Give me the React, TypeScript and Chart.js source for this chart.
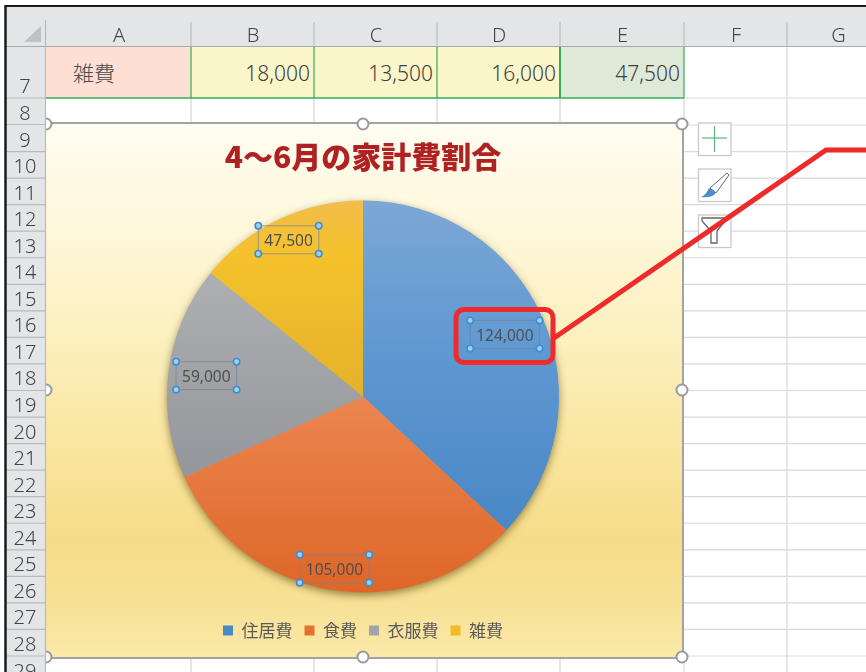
import React, { useEffect, useRef } from "react";
import { Chart, registerables } from "chart.js";

Chart.register(...registerables);

// ---- data ----
const categories = ["住居費", "食費", "衣服費", "雑費"];
const seriesValues = [124000, 105000, 59000, 47500];
const chartTitle = "4～6月の家計費割合";
const columnLabels = ["A", "B", "C", "D", "E", "F", "G"];
const rowLabels = ["7", "8", "9", "10", "11", "12", "13", "14", "15", "16", "17", "18", "19", "20", "21", "22", "23", "24", "25", "26", "27", "28", "29"];
const rowCategory = "雑費";
const rowCells = ["18,000", "13,500", "16,000", "47,500"];

// ---- style ----
const legendColors = ["#4a89c8", "#e5712f", "#a3a4a7", "#f1bb2a"];
const sliceStops: [number, string][][] = [
  [[0, "#7ca7d6"], [0.4, "#5e98d1"], [0.82, "#4b88c7"]],
  [[0.5, "#ec8650"], [1, "#de6628"]],
  [[0.19, "#aeafb2"], [0.71, "#95969b"]],
  [[0, "#f2bd4a"], [0.14, "#f5c22c"], [0.5, "#e4b12b"]],
];
const labelRadiusFraction = [0.789, 0.893, 0.806, 0.883];
const colEdges = [46, 191, 314, 437, 560, 684, 787, 890];
const FONT = '"Noto Sans CJK JP", "Noto Sans", sans-serif';
const LATIN = '"Noto Sans", "Open Sans", sans-serif';
const rowTop = (i: number) => 125 + (i - 2) * 26.55; // i: index in rowLabels, from row 9

const shadowPlugin = {
  id: "pieShadow",
  beforeDatasetsDraw(chart: any) {
    const arc = chart.getDatasetMeta(0).data[0];
    if (!arc) return;
    const c = chart.ctx;
    c.save();
    c.shadowColor = "rgba(70,55,0,0.6)";
    c.shadowBlur = 9;
    c.shadowOffsetY = 3;
    c.fillStyle = "#b0a070";
    c.beginPath();
    c.arc(arc.x, arc.y, arc.outerRadius - 0.5, 0, Math.PI * 2);
    c.fill();
    c.restore();
  },
};

const labelPlugin = {
  id: "sliceLabels",
  afterDatasetsDraw(chart: any) {
    const c = chart.ctx;
    const meta = chart.getDatasetMeta(0);
    meta.data.forEach((arc: any, i: number) => {
      const mid = (arc.startAngle + arc.endAngle) / 2;
      const r = arc.outerRadius * labelRadiusFraction[i];
      const x = arc.x + Math.cos(mid) * r;
      const y = arc.y + Math.sin(mid) * r;
      const text = seriesValues[i].toLocaleString("en-US");
      c.save();
      c.font = `15.5px ${LATIN}`;
      c.textAlign = "center";
      c.textBaseline = "middle";
      c.fillStyle = "#4f4f4f";
      c.fillText(text, x, y + 1.5);
      const hw = c.measureText(text).width / 2 + 6;
      const hh = 14;
      const by = y - 0.5;
      c.strokeStyle = "rgba(120,130,150,0.75)";
      c.lineWidth = 1;
      c.strokeRect(x - hw, by - hh, hw * 2, hh * 2);
      for (const [dx, dy] of [[-hw, -hh], [hw, -hh], [-hw, hh], [hw, hh]]) {
        c.beginPath();
        c.arc(x + dx, by + dy, 3.2, 0, Math.PI * 2);
        c.fillStyle = "#9fd0f2";
        c.fill();
        c.lineWidth = 1.6;
        c.strokeStyle = "#3d8fd2";
        c.stroke();
      }
      c.restore();
    });
  },
};

function Sheet() {
  const lines: React.ReactNode[] = [];
  rowLabels.forEach((_, i) => {
    if (i < 2) return;
    const y = rowTop(i);
    lines.push(<line key={"r" + i} x1={684} x2={866} y1={y} y2={y} stroke="#d9d9d9" strokeWidth={1.2} />);
  });
  const gridY = [[98, 124], [658, 672]];
  colEdges.slice(1, 6).forEach((x, i) => {
    gridY.forEach(([a, b], j) => {
      if (x === 684 && j === 1) return;
      lines.push(<line key={`c${i}${j}`} x1={x} x2={x} y1={a} y2={b} stroke="#d4d4d4" strokeWidth={1.2} />);
    });
  });
  return (
    <svg width={866} height={672} style={{ position: "absolute", left: 0, top: 0 }}>
      <rect x={0} y={0} width={866} height={672} fill="#fff" />
      {lines}
      <line x1={684} x2={684} y1={658} y2={672} stroke="#d4d4d4" />
      <line x1={787} x2={787} y1={46} y2={672} stroke="#d9d9d9" strokeWidth={1.2} />
      <line x1={684} x2={866} y1={98} y2={98} stroke="#d9d9d9" strokeWidth={1.2} />
      <rect x={46} y={47} width={145} height={51} fill="#fde0d3" />
      <rect x={191} y={47} width={369} height={51} fill="#faf6c9" />
      <rect x={560} y={47} width={124} height={51} fill="#dfe9d7" />
      <line x1={46} x2={684} y1={98} y2={98} stroke="#35ad5c" strokeWidth={1.3} />
      {[191, 314, 437].map((x) => <line key={x} x1={x} x2={x} y1={47} y2={98} stroke="#35ad5c" strokeWidth={1.2} />)}
      <line x1={560} x2={560} y1={47} y2={98} stroke="#35ad5c" strokeWidth={2} />
      <line x1={684} x2={684} y1={47} y2={98} stroke="#35ad5c" strokeWidth={1.2} />
      <text x={73} y={81} fontFamily={FONT} fontSize={21} fontWeight={300} fill="#4a4a4a">{rowCategory}</text>
      {rowCells.map((t, i) => (
        <text key={t} x={colEdges[i + 2] - 4} y={81} textAnchor="end" fontFamily={LATIN} fontWeight={300} fontSize={21} fill="#3e3e3e">{t}</text>
      ))}
    </svg>
  );
}

function Overlay() {
  const handles = [[46, 124], [363, 124], [682, 124], [46, 390], [682, 390], [46, 657], [363, 657], [682, 657]];
  return (
    <svg width={866} height={672} style={{ position: "absolute", left: 0, top: 0 }}>
      {handles.map(([x, y]) => (
        <circle key={`${x}-${y}`} cx={x} cy={y} r={5.5} fill="#fff" stroke="#9a9a9a" strokeWidth={2} />
      ))}
      {/* header bands */}
      <rect x={0} y={0} width={866} height={6} fill="#fff" />
      <rect x={5} y={6} width={861} height={40} fill="#e4e5e7" />
      <rect x={5} y={6} width={40} height={666} fill="#e4e5e7" />
      <line x1={5} x2={866} y1={46.5} y2={46.5} stroke="#a9aaac" strokeWidth={1.2} />
      <line x1={45.5} x2={45.5} y1={20} y2={672} stroke="#b9babc" strokeWidth={1.2} />
      <polygon points="41,26 41,42 24,42" fill="#bfc0c2" />
      <line x1={5} x2={866} y1={6} y2={6} stroke="#1b1b1b" strokeWidth={2} />
      <line x1={5.5} x2={5.5} y1={5} y2={672} stroke="#1b1b1b" strokeWidth={2.5} />
      {columnLabels.map((c, i) => (
        <g key={c}>
          {i < 6 && <line x1={colEdges[i + 1]} x2={colEdges[i + 1]} y1={22} y2={46} stroke="#b5b6b8" />}
          <text x={(colEdges[i] + colEdges[i + 1]) / 2 + (i === 6 ? 0 : 0.5)} y={42} textAnchor="middle" fontFamily={LATIN} fontSize={20} fontWeight={300} fill="#444">{c}</text>
        </g>
      ))}
      {rowLabels.map((r, i) => {
        const bottom = i === 0 ? 98 : i === 1 ? 124.5 : rowTop(i) + 26.55;
        const base = i === 0 ? 93 : i === 1 ? 120 : rowTop(i) + 21.5;
        return (
          <g key={r}>
            <line x1={7} x2={45} y1={bottom} y2={bottom} stroke="#b9babc" strokeWidth={1.2} />
            <text x={25} y={base} textAnchor="middle" fontFamily={LATIN} fontSize={20} fontWeight={300} fill="#444">{r}</text>
          </g>
        );
      })}
      {/* side buttons */}
      {[123, 169, 215].map((y) => (
        <rect key={y} x={698.5} y={y} width={32.5} height={32.5} fill="#fff" stroke="#c9c9c9" strokeWidth={1.3} />
      ))}
      <line x1={714.5} x2={714.5} y1={126} y2={152} stroke="#5cb37a" strokeWidth={1.2} />
      <line x1={702} x2={727} y1={138} y2={138} stroke="#5cb37a" strokeWidth={1.2} />
      <path d="M710 188 L727 173 L729 175 L716 193 Z" fill="#fff" stroke="#666" strokeWidth={1} />
      <path d="M709 188 Q716 190 715 194 Q711 198 701 197 Q706 195 709 188 Z" fill="#4a8ecb" />
      <path d="M702 218 L725 218 L725 221 L717 231 L717 243 L711 243 L711 231 L702 221 Z" fill="#fff" stroke="#666" strokeWidth={1.3} />
      {/* callout */}
      <rect x={456} y={309.5} width={97} height={53} rx={8} fill="none" stroke="#ee2a2a" strokeWidth={5} />
      <polyline points="554,338 826,150 866,150" fill="none" stroke="#ee2a2a" strokeWidth={5} />
    </svg>
  );
}

export default function App() {
  const ref = useRef<HTMLCanvasElement>(null);
  useEffect(() => {
    if (!ref.current) return;
    const chart = new Chart(ref.current, {
      type: "pie",
      data: {
        labels: categories,
        datasets: [{
          data: seriesValues,
          borderWidth: 0,
          radius: 196,
          backgroundColor: (ctx: any) => {
            const area = ctx.chart.chartArea;
            const i = ctx.dataIndex ?? 0;
            if (!area) return legendColors[i];
            const cy = (area.top + area.bottom) / 2;
            const g = ctx.chart.ctx.createLinearGradient(0, cy - 196, 0, cy + 196);
            sliceStops[i].forEach(([p, col]) => g.addColorStop(p, col));
            return g;
          },
        }],
      },
      options: {
        responsive: false,
        animation: false,
        layout: { padding: { bottom: 8, right: 2 } },
        plugins: {
          tooltip: { enabled: false },
          title: {
            display: true,
            text: chartTitle,
            color: "#b02222",
            font: { family: FONT, size: 30, weight: "900", lineHeight: 1.2 },
            padding: { top: 15, bottom: 8 },
          },
          legend: {
            position: "bottom",
            labels: {
              font: { family: FONT, size: 17, weight: "400" },
              color: "#5a5a5a",
              boxWidth: 10,
              boxHeight: 10,
              padding: 12,
              generateLabels: () =>
                categories.map((text, i) => ({
                  text,
                  fillStyle: legendColors[i],
                  strokeStyle: legendColors[i],
                  fontColor: "#5a5a5a",
                  lineWidth: 0,
                  index: i,
                })),
            },
          },
        },
      } as any,
      plugins: [shadowPlugin, labelPlugin],
    });
    return () => chart.destroy();
  }, []);

  return (
    <div style={{ position: "fixed", left: 0, top: 0, width: 866, height: 672, overflow: "hidden", background: "#fff" }}>
      <Sheet />
      <div
        style={{
          position: "absolute",
          left: 46,
          top: 124,
          width: 636,
          height: 533,
          outline: "2px solid #a3a3a3",
          background:
            "linear-gradient(180deg,#fffdf2 0%,#fef8dc 18%,#fcf0bf 40%,#fae6a0 60%,#f6dc88 78%,#f8e196 90%,#fbe9a8 100%)",
        }}
      >
        <canvas ref={ref} width={636} height={533} style={{ display: "block" }} />
      </div>
      <Overlay />
    </div>
  );
}
